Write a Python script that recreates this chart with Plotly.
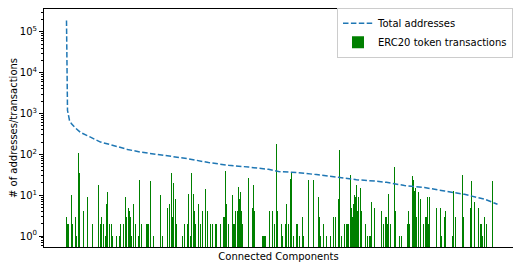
import plotly.graph_objects as go

# ERC20 token transactions per connected component (component index -> count; zeros omitted)
bar_component = [
    0, 1, 2, 5, 6, 9, 10, 12, 13, 17, 21, 26, 32, 34, 35, 37, 39, 40, 41, 43, 45, 46, 50, 53, 54,
    57, 59, 60, 62, 63, 64, 65, 67, 69, 72, 73, 75, 80, 81, 82, 84, 87, 94, 96, 101, 103,
    105, 106, 107, 109, 110, 116, 118, 121, 122, 124, 125, 127, 128, 129, 132, 134, 136, 139,
    141, 144, 146, 149, 150, 154, 157, 158, 159, 160, 162, 166, 167, 168, 169, 171, 172, 173,
    174, 175, 176, 182, 186, 187, 188, 196, 197, 198, 199, 203, 206, 208, 210, 211,
    215, 216, 219, 220, 222, 224, 225, 227, 230, 231, 233, 236, 237, 242, 247, 252, 253, 254,
    257, 260, 264, 267, 269, 272, 273, 275, 278, 280, 281, 282, 284, 285, 286, 287, 288, 289,
    290, 291, 292, 294, 295, 299, 301, 303, 304, 305, 308, 315, 317, 319,
    320, 321, 322, 324, 328, 329, 333, 335, 341, 342, 343, 346, 347, 348, 349, 350, 352, 354,
    357, 359, 360, 361, 362, 363, 370, 374, 375, 378, 379, 386, 387, 389, 396, 397, 404, 405,
    408, 412, 414, 415, 416, 418, 420, 426,
]
bar_count = [
    3, 2, 2, 10, 2, 3, 1, 110, 36, 4, 9, 2, 18, 2, 3, 2, 1, 6, 12, 2, 2, 1, 1, 1, 2,
    2, 9, 3, 5, 4, 3, 1, 6, 2, 1, 23, 2, 2, 2, 2, 22, 1, 10, 1, 5, 6,
    36, 3, 20, 8, 2, 1, 2, 2, 11, 1, 36, 11, 4, 2, 6, 2, 4, 14,
    4, 2, 2, 2, 2, 2, 3, 3, 39, 6, 2, 10, 2, 2,
    4, 4, 16, 8, 12, 4, 2, 27, 5, 18, 4, 1, 1, 1, 1, 4, 4, 2, 180, 4,
    2, 1, 2, 6, 2, 25, 36, 1, 2, 2, 1, 3, 1, 23, 23, 9, 3, 1,
    2, 1, 1, 3, 3, 8, 130, 1, 2, 2, 2, 2, 32, 5, 3, 6, 10, 9,
    18, 4, 9, 15, 4, 2, 1, 1, 1, 7, 5, 4, 2, 3,
    3, 2, 11, 2, 50, 4, 1, 1, 2, 4, 2, 30, 23, 13, 15, 3, 12, 8,
    2, 3, 3, 9, 2, 9, 5, 5, 1, 3, 4, 1, 13, 3, 32, 3, 5, 22,
    7, 5, 2, 2, 1, 3, 2, 22,
]

# Total addresses per connected component (sorted, read at sample components)
line_component = [0, 1, 3, 5, 9, 14, 24, 34, 44, 61, 74, 104, 122, 142, 162, 182, 202,
                  212, 230, 250, 270, 290, 310, 320, 338, 358, 378, 398, 418, 431]
line_total = [190000, 1200, 680, 560, 440, 344, 264, 200, 173, 132, 114, 91, 78, 63, 54, 49, 43,
              38, 36, 32, 28, 24, 22, 20.7, 17.3, 15.4, 12.7, 10.5, 8.0, 6.0]

y_tickvals = [1, 10, 100, 1000, 10000, 100000]
y_ticktext = ["10<sup>0</sup>", "10<sup>1</sup>", "10<sup>2</sup>",
              "10<sup>3</sup>", "10<sup>4</sup>", "10<sup>5</sup>"]

FONT = "DejaVu Sans"

fig = go.Figure()
fig.add_trace(go.Bar(
    x=bar_component, y=bar_count, name="ERC20 token transactions",
    marker=dict(color="#008000", line=dict(width=0)), width=1,
))
fig.add_trace(go.Scatter(
    x=line_component, y=line_total, mode="lines", name="Total addresses",
    line=dict(color="#1f77b4", width=1.5, dash="5.5px,2.4px"),
))

fig.update_layout(
    width=513, height=262,
    margin=dict(l=44, r=0, t=9, b=15, autoexpand=False),
    paper_bgcolor="white", plot_bgcolor="white",
    font=dict(family=FONT, size=10, color="black"),
    showlegend=True,
    legend=dict(
        x=1, xanchor="right", y=1.005, yanchor="top",
        bgcolor="rgba(255,255,255,0.8)", bordercolor="#cccccc", borderwidth=1,
        font=dict(size=10), traceorder="reversed",
        tracegroupgap=0, itemwidth=30,
    ),
    bargap=0,
)
fig.update_xaxes(
    range=[-22.5, 446.5], showticklabels=False, ticks="", showgrid=False, zeroline=False,
    showline=True, linecolor="black", linewidth=1, mirror=True, automargin=False,
    title=dict(text="Connected Components", font=dict(size=10), standoff=5),
)
fig.update_yaxes(
    type="log", range=[-0.268, 5.56], tickvals=y_tickvals, ticktext=y_ticktext,
    showgrid=False, zeroline=False, showline=True, linecolor="black", linewidth=1,
    ticks="outside", ticklen=4, tickcolor="black", automargin=False,
    minor=dict(ticks="outside", ticklen=2, tickcolor="black", dtick="D1"),
    title=dict(text="# of addresses/transactions", font=dict(size=10), standoff=0),
)

fig.write_html("out.html", config={"displayModeBar": False},
               post_script="document.body.style.margin='0';")
